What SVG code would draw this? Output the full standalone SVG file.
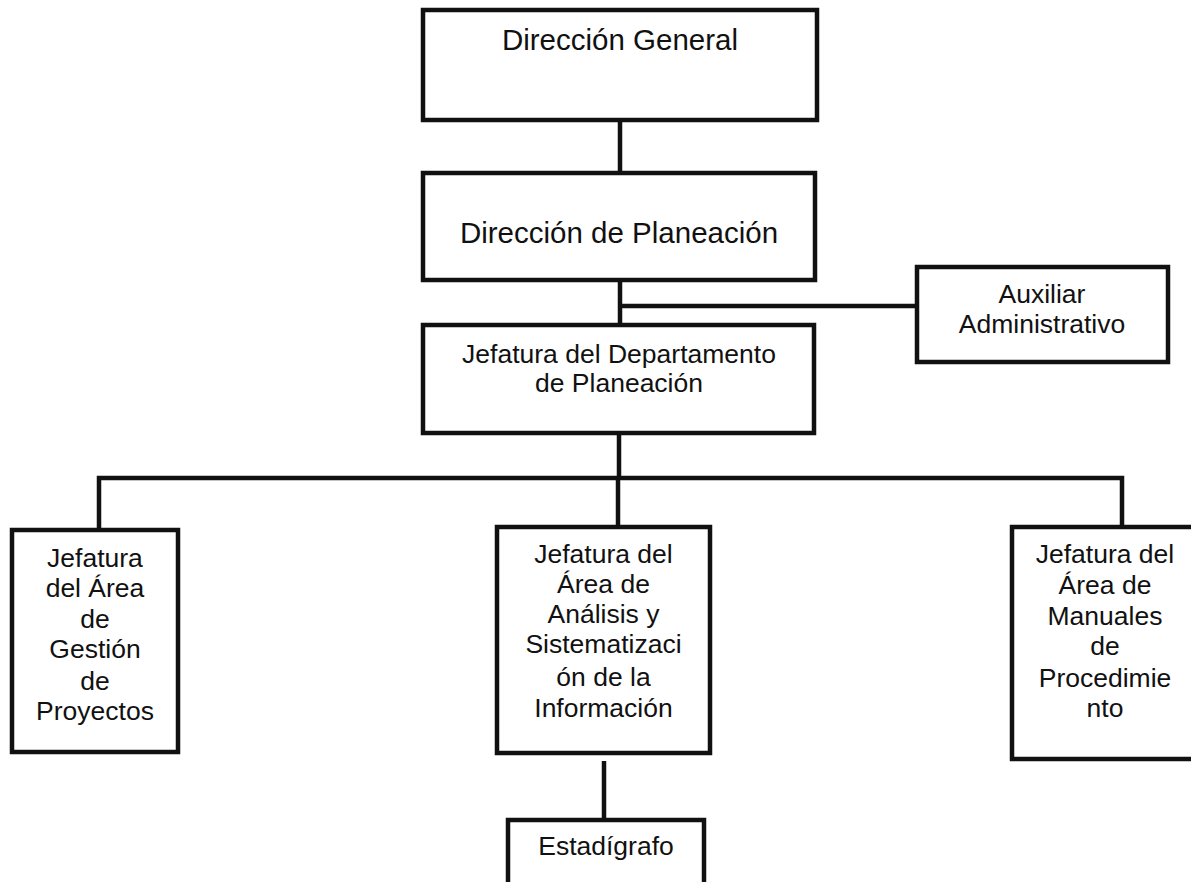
<svg xmlns="http://www.w3.org/2000/svg" width="1191" height="882" viewBox="0 0 1191 882">
<style>
.box{fill:#fff;stroke:#111;stroke-width:4.5}
.ln{stroke:#111;stroke-width:4.5;fill:none}
text{font-family:"Liberation Sans",Arial,sans-serif;fill:#111;text-anchor:middle}
.big{font-size:29.5px}
.sm{font-size:26.5px}
</style>
<rect width="1191" height="882" fill="#fff"/>
<g id="connectors">
<line class="ln" x1="620" y1="120" x2="620" y2="173"/>
<line class="ln" x1="620" y1="280" x2="620" y2="325"/>
<line class="ln" x1="620" y1="306" x2="917" y2="306"/>
<line class="ln" x1="619" y1="433" x2="619" y2="478"/>
<polyline class="ln" points="99,530 99,478 1122,478 1122,527"/>
<line class="ln" x1="618" y1="478" x2="618" y2="527"/>
<line class="ln" x1="604" y1="761" x2="604" y2="820"/>
</g>
<g id="direccion-general">
<rect class="box" x="423" y="10" width="394" height="110"/>
<text class="big" x="620" y="50">Dirección General</text>
</g>
<g id="direccion-planeacion">
<rect class="box" x="423" y="173" width="392" height="107"/>
<text class="big" x="619" y="243">Dirección de Planeación</text>
</g>
<g id="auxiliar">
<rect class="box" x="917" y="267" width="251" height="95"/>
<text class="sm" x="1042" y="303">Auxiliar</text>
<text class="sm" x="1042" y="333">Administrativo</text>
</g>
<g id="jefatura-departamento">
<rect class="box" x="423" y="325" width="391" height="108"/>
<text class="sm" x="619" y="363">Jefatura del Departamento</text>
<text class="sm" x="619" y="392">de Planeación</text>
</g>
<g id="gestion-proyectos">
<rect class="box" x="12" y="530" width="166" height="222"/>
<text class="sm" x="95" y="567">Jefatura</text>
<text class="sm" x="95" y="597">del Área</text>
<text class="sm" x="95" y="628">de</text>
<text class="sm" x="95" y="658">Gestión</text>
<text class="sm" x="95" y="690">de</text>
<text class="sm" x="95" y="720">Proyectos</text>
</g>
<g id="analisis-sistematizacion">
<rect class="box" x="497" y="527" width="213" height="226"/>
<text class="sm" x="603.5" y="563">Jefatura del</text>
<text class="sm" x="603.5" y="593">Área de</text>
<text class="sm" x="603.5" y="623">Análisis y</text>
<text class="sm" x="603.5" y="653">Sistematizaci</text>
<text class="sm" x="603.5" y="686">ón de la</text>
<text class="sm" x="603.5" y="717">Información</text>
</g>
<g id="manuales-procedimiento">
<rect class="box" x="1012" y="527" width="186" height="232"/>
<text class="sm" x="1105" y="563">Jefatura del</text>
<text class="sm" x="1105" y="594">Área de</text>
<text class="sm" x="1105" y="625">Manuales</text>
<text class="sm" x="1105" y="655">de</text>
<text class="sm" x="1105" y="687">Procedimie</text>
<text class="sm" x="1105" y="717">nto</text>
</g>
<g id="estadigrafo">
<rect class="box" x="508" y="820" width="196" height="66"/>
<text class="sm" x="606" y="855">Estadígrafo</text>
</g>
</svg>
